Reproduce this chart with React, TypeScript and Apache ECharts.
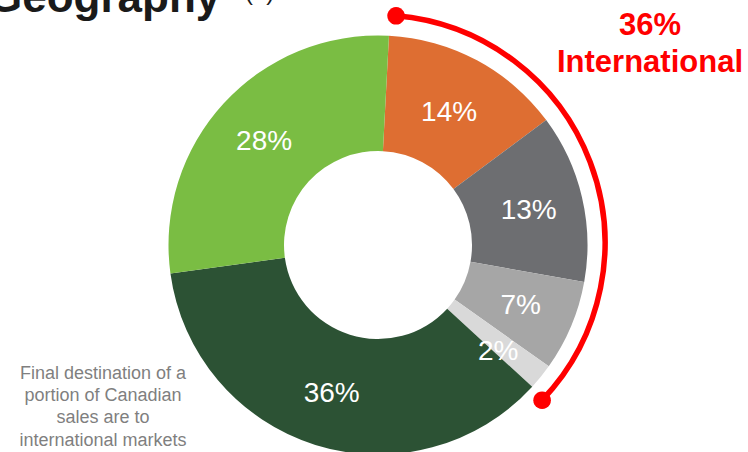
import React, { useEffect, useRef } from "react";
import * as echarts from "echarts";

// ---- data ----
const categories = [
  "United States",
  "Asia",
  "Europe",
  "Other International",
  "Canada (domestic)",
  "Canada (other)",
];
const shares = [14, 13, 7, 2, 36, 28];
const sliceColors = ["#DE6E32", "#6D6E71", "#A6A6A6", "#D9D9D9", "#2C5234", "#7ABD43"];
const titleText = "Geography";
const titleNote = "(1)";
const calloutValue = "36%";
const calloutLabel = "International";
const footnoteLines = [
  "Final destination of a",
  "portion of Canadian",
  "sales are to",
  "international markets",
];

const FONT = 'Arial, "Liberation Sans", sans-serif';

export default function App() {
  const ref = useRef<HTMLDivElement>(null);

  useEffect(() => {
    if (!ref.current) return;
    const chart = echarts.init(ref.current, undefined, { renderer: "svg" });

    const arcCx = 377;
    const arcCy = 243;
    const arcR = 228;
    const a0 = (-85.2 * Math.PI) / 180;
    const a1 = (43.6 * Math.PI) / 180;

    const option = {
      animation: false,
      backgroundColor: "#ffffff",
      series: [
        {
          type: "pie",
          center: [378, 245],
          radius: [94, 209.5],
          startAngle: 87,
          clockwise: true,
          silent: true,
          avoidLabelOverlap: false,
          label: {
            show: true,
            position: "inside",
            formatter: "{c}%",
            color: "#ffffff",
            fontSize: 28,
            fontFamily: FONT,
          },
          labelLine: { show: false },
          itemStyle: { borderWidth: 0 },
          emphasis: { disabled: true },
          data: categories.map((name, i) => ({
            name,
            value: shares[i],
            itemStyle: { color: sliceColors[i] },
            label: i === 3 ? { offset: [0, 8] } : i === 0 ? { offset: [-2, 3] } : undefined,
          })),
        },
      ],
      graphic: [
        {
          type: "text",
          left: -12,
          top: -3.4 - 22,
          style: {
            text: titleText,
            fontSize: 44,
            fontWeight: "bold",
            fontFamily: FONT,
            fill: "#1a1a1a",
          },
        },
        {
          type: "text",
          x: 245,
          y: -8.4,
          style: {
            text: titleNote,
            fontSize: 24,
            fontFamily: FONT,
            fill: "#1a1a1a",
            verticalAlign: "middle",
          },
        },
        {
          type: "text",
          x: 650,
          y: 24,
          style: {
            text: calloutValue,
            fontSize: 31,
            fontWeight: "bold",
            fontFamily: FONT,
            fill: "#FF0000",
            align: "center",
            verticalAlign: "middle",
          },
        },
        {
          type: "text",
          x: 650,
          y: 61,
          style: {
            text: calloutLabel,
            fontSize: 31,
            fontWeight: "bold",
            fontFamily: FONT,
            fill: "#FF0000",
            align: "center",
            verticalAlign: "middle",
          },
        },
        {
          type: "arc",
          shape: { cx: arcCx, cy: arcCy, r: arcR, startAngle: a0, endAngle: a1, clockwise: true },
          style: { stroke: "#FF0000", lineWidth: 5.5, fill: "none" },
        },
        {
          type: "circle",
          shape: { cx: arcCx + arcR * Math.cos(a0), cy: arcCy + arcR * Math.sin(a0), r: 8.8 },
          style: { fill: "#FF0000" },
        },
        {
          type: "circle",
          shape: { cx: arcCx + arcR * Math.cos(a1), cy: arcCy + arcR * Math.sin(a1), r: 8.8 },
          style: { fill: "#FF0000" },
        },
        {
          type: "text",
          x: 103,
          y: 361.5,
          style: {
            text: footnoteLines.join("\n"),
            fontSize: 18,
            lineHeight: 22.3,
            fontFamily: FONT,
            fill: "#7F7F7F",
            align: "center",
            verticalAlign: "top",
          },
        },
      ],
    };

    chart.setOption(option as any);
    return () => chart.dispose();
  }, []);

  return (
    <div
      ref={ref}
      style={{ position: "fixed", left: 0, top: 0, width: 748, height: 452 }}
    />
  );
}
